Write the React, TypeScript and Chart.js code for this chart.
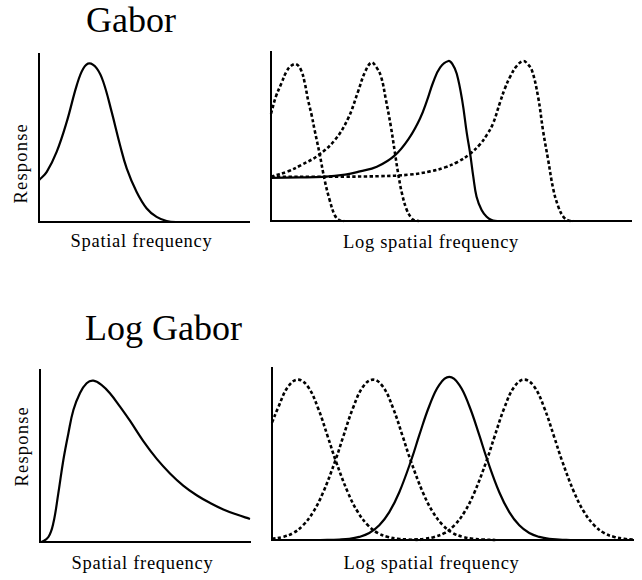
import React, { useEffect, useRef } from "react";
import { Chart, registerables } from "chart.js";

Chart.register(...registerables);

// ---------- Gabor, linear spatial frequency ----------
const gaborLinX = [0, 3.7, 8.4, 13.2, 18.0, 21.1, 24.0, 27.5, 30.6, 34.6, 38.6, 41.8, 46.5, 51.3, 56.0, 60.8, 65.6, 100];
const gaborLinY = [0.263, 0.316, 0.442, 0.631, 0.863, 0.968, 1.0, 0.968, 0.884, 0.694, 0.484, 0.337, 0.189, 0.085, 0.032, 0.006, 0, 0];

// ---------- Gabor, log spatial frequency (4 filters) ----------
const gaborLogX1 = [0, 1.4, 2.9, 4.2, 5.6, 7.0, 8.4, 9.4, 10.3, 11.3, 12.1, 13.5, 14.9, 16.3, 17.7, 18.9, 20.3];
const gaborLogY1 = [0.67, 0.78, 0.86, 0.93, 0.97, 0.98, 0.94, 0.86, 0.755, 0.66, 0.57, 0.42, 0.256, 0.13, 0.037, 0.006, 0];
const gaborLogX2 = [0, 4.7, 8.4, 13.1, 17.7, 21.4, 24.2, 26.1, 27.9, 29.3, 30.6, 31.9, 33.3, 34.4, 35.3, 36.4, 37.7, 38.8, 39.7, 41.1];
const gaborLogY2 = [0.277, 0.31, 0.35, 0.41, 0.505, 0.64, 0.81, 0.93, 0.99, 0.96, 0.9, 0.76, 0.59, 0.43, 0.3, 0.17, 0.07, 0.025, 0.005, 0];
const gaborLogX3 = [0, 8.1, 14.5, 20.6, 24.7, 29.4, 34.4, 38.6, 41.4, 43.3, 45.1, 47.0, 49.3, 50.4, 51.6, 53.1, 54.4, 55.3, 56.2, 57.1, 58.5, 59.9, 61.3, 62.8];
const gaborLogY3 = [0.27, 0.272, 0.276, 0.29, 0.31, 0.339, 0.41, 0.526, 0.64, 0.75, 0.87, 0.96, 1.0, 0.98, 0.92, 0.755, 0.547, 0.424, 0.276, 0.152, 0.069, 0.027, 0.006, 0];
const gaborLogX4 = [0, 16.4, 30.3, 38.6, 44.2, 48.3, 51.9, 55.3, 58.1, 60.0, 61.7, 63.6, 65.0, 66.4, 68.3, 70.1, 71.3, 72.5, 74.2, 75.6, 77.0, 78.4, 79.8, 81.2, 82.6, 83.9];
const gaborLogY4 = [0.276, 0.277, 0.28, 0.29, 0.31, 0.335, 0.37, 0.42, 0.48, 0.54, 0.61, 0.74, 0.83, 0.9, 0.97, 1.0, 0.98, 0.94, 0.775, 0.56, 0.38, 0.2, 0.09, 0.027, 0.003, 0];

// ---------- Log Gabor, linear spatial frequency ----------
const logGaborLinX = [0, 0.8, 4.0, 6.3, 8.7, 11.1, 13.5, 15.9, 19.0, 22.2, 25.4, 29.4, 33.3, 38.1, 42.9, 49.2, 55.6, 61.9, 68.2, 74.6, 81.0, 87.3, 93.7, 100];
const logGaborLinY = [0, 0, 0.031, 0.114, 0.3, 0.507, 0.673, 0.818, 0.922, 0.984, 1.0, 0.973, 0.922, 0.839, 0.75, 0.625, 0.515, 0.425, 0.35, 0.29, 0.242, 0.202, 0.17, 0.143];

// ---------- Log Gabor, log spatial frequency (4 filters) ----------
const logGaborLogX1 = [0, 1.66, 4.43, 7.2, 9.97, 12.74, 15.51, 17.59, 21.05, 23.82, 26.59, 29.36, 32.13, 34.9, 37.67, 41.08];
const logGaborLogY1 = [0.72, 0.81, 0.94, 0.984, 0.94, 0.81, 0.63, 0.49, 0.29, 0.17, 0.09, 0.042, 0.019, 0.007, 0.003, 0];
const logGaborLogX2 = [0, 3.05, 5.82, 8.59, 11.36, 14.13, 17.59, 19.67, 22.44, 25.21, 27.98, 30.75, 33.52, 36.29, 38.37, 41.83, 44.6, 47.37, 50.14, 52.91, 55.68, 58.45, 61.86];
const logGaborLogY2 = [0.007, 0.019, 0.042, 0.09, 0.17, 0.29, 0.49, 0.63, 0.81, 0.94, 0.984, 0.94, 0.81, 0.63, 0.49, 0.29, 0.17, 0.09, 0.042, 0.019, 0.007, 0.003, 0];
const logGaborLogX3 = [13.38, 18.64, 21.41, 24.18, 26.95, 29.72, 32.49, 35.26, 38.73, 40.8, 43.57, 46.34, 49.11, 51.88, 54.65, 57.42, 59.5, 62.96, 65.73, 68.5, 71.27, 74.04, 76.81, 79.58, 82.63];
const logGaborLogY3 = [0, 0.003, 0.007, 0.019, 0.043, 0.09, 0.171, 0.293, 0.5, 0.643, 0.822, 0.952, 1.0, 0.952, 0.822, 0.643, 0.5, 0.293, 0.171, 0.09, 0.043, 0.019, 0.007, 0.003, 0];
const logGaborLogX4 = [39.42, 42.19, 44.96, 47.73, 50.5, 53.27, 56.04, 59.5, 61.58, 64.35, 67.12, 69.89, 72.66, 75.43, 78.2, 80.28, 83.74, 86.51, 89.28, 92.05, 94.82, 97.59, 100];
const logGaborLogY4 = [0.003, 0.007, 0.019, 0.042, 0.09, 0.17, 0.29, 0.49, 0.63, 0.81, 0.94, 0.984, 0.94, 0.81, 0.63, 0.49, 0.29, 0.17, 0.09, 0.042, 0.019, 0.007, 0.003];

const titles = ["Gabor", "Log Gabor"];
const xLabels = ["Spatial frequency", "Log spatial frequency"];
const yLabel = "Response";

const FONT = '"Liberation Serif", "Times New Roman", Times, serif';
const PAD = 6;

type Series = { xs: number[]; ys: number[]; dashed: boolean };

function Panel(props: { left: number; top: number; width: number; height: number; ymax: number; series: Series[] }) {
  const { left, top, width, height, ymax, series } = props;
  const ref = useRef<HTMLCanvasElement>(null);
  useEffect(() => {
    const chart = new Chart(ref.current as HTMLCanvasElement, {
      type: "line",
      data: {
        datasets: series.map((s) => ({
          data: s.xs.map((x, i) => ({ x, y: s.ys[i] })),
          borderColor: "#000",
          borderWidth: s.dashed ? 2.6 : 2.2,
          borderDash: s.dashed ? [3.4, 2.4] : [],
          borderCapStyle: "butt",
          pointRadius: 0,
          pointHoverRadius: 0,
          tension: 0.4,
          fill: false,
          clip: false,
        })) as any,
      },
      options: {
        responsive: false,
        maintainAspectRatio: false,
        animation: false,
        events: [],
        layout: { padding: PAD },
        plugins: { legend: { display: false }, tooltip: { enabled: false }, title: { display: false } },
        scales: {
          x: {
            type: "linear",
            min: 0,
            max: 100,
            grid: { display: false, drawTicks: false },
            ticks: { display: false },
            border: { display: true, color: "#000", width: 2 },
          },
          y: {
            type: "linear",
            min: 0,
            max: ymax,
            grid: { display: false, drawTicks: false },
            ticks: { display: false },
            border: { display: true, color: "#000", width: 2 },
          },
        },
      },
    });
    return () => chart.destroy();
  }, []);
  return (
    <canvas
      ref={ref}
      width={Math.round(width + 2 * PAD)}
      height={Math.round(height + 2 * PAD)}
      style={{ position: "absolute", left: left - PAD, top: top - PAD }}
    />
  );
}

function Text(props: { text: string; cx: number; baseline: number; size: number; spacing?: number }) {
  const { text, cx, baseline, size, spacing = 0 } = props;
  return (
    <div
      style={{
        position: "absolute",
        left: cx - 150,
        width: 300,
        top: baseline - 0.8375 * size,
        fontSize: size,
        lineHeight: `${size}px`,
        fontFamily: FONT,
        letterSpacing: spacing,
        textAlign: "center",
        color: "#000",
        whiteSpace: "nowrap",
      }}
    >
      {text}
    </div>
  );
}

function VText(props: { text: string; cx: number; cy: number; size: number; spacing?: number }) {
  const { text, cx, cy, size, spacing = 0 } = props;
  return (
    <div
      style={{
        position: "absolute",
        left: cx - 100,
        top: cy - size / 2,
        width: 200,
        height: size,
        fontSize: size,
        lineHeight: `${size}px`,
        fontFamily: FONT,
        letterSpacing: spacing,
        textAlign: "center",
        color: "#000",
        whiteSpace: "nowrap",
        transform: "rotate(-90deg)",
      }}
    >
      {text}
    </div>
  );
}

export default function App() {
  return (
    <div style={{ position: "fixed", left: 0, top: 0, width: 642, height: 580, background: "#fff", overflow: "hidden" }}>
      <Text text={titles[0]} cx={131} baseline={32.3} size={36} />
      <Text text={titles[1]} cx={163.5} baseline={340} size={36} />

      <Panel left={39} top={54} width={210} height={167.7} ymax={1.059}
        series={[{ xs: gaborLinX, ys: gaborLinY, dashed: false }]} />
      <Panel left={271} top={51.7} width={360} height={169.3} ymax={1.056}
        series={[
          { xs: gaborLogX1, ys: gaborLogY1, dashed: true },
          { xs: gaborLogX2, ys: gaborLogY2, dashed: true },
          { xs: gaborLogX4, ys: gaborLogY4, dashed: true },
          { xs: gaborLogX3, ys: gaborLogY3, dashed: false },
        ]} />
      <Panel left={40} top={370} width={210} height={171.7} ymax={1.066}
        series={[{ xs: logGaborLinX, ys: logGaborLinY, dashed: false }]} />
      <Panel left={271.7} top={368.3} width={361} height={171.7} ymax={1.055}
        series={[
          { xs: logGaborLogX1, ys: logGaborLogY1, dashed: true },
          { xs: logGaborLogX2, ys: logGaborLogY2, dashed: true },
          { xs: logGaborLogX4, ys: logGaborLogY4, dashed: true },
          { xs: logGaborLogX3, ys: logGaborLogY3, dashed: false },
        ]} />

      <VText text={yLabel} cx={20.8} cy={163.3} size={18.5} spacing={1.2} />
      <VText text={yLabel} cx={21.5} cy={445.8} size={18.5} spacing={1.2} />
      <Text text={xLabels[0]} cx={141.5} baseline={247} size={18.5} spacing={0.7} />
      <Text text={xLabels[1]} cx={431} baseline={248} size={18.5} spacing={0.7} />
      <Text text={xLabels[0]} cx={142.5} baseline={569} size={18.5} spacing={0.7} />
      <Text text={xLabels[1]} cx={431.5} baseline={569} size={18.5} spacing={0.7} />
    </div>
  );
}
